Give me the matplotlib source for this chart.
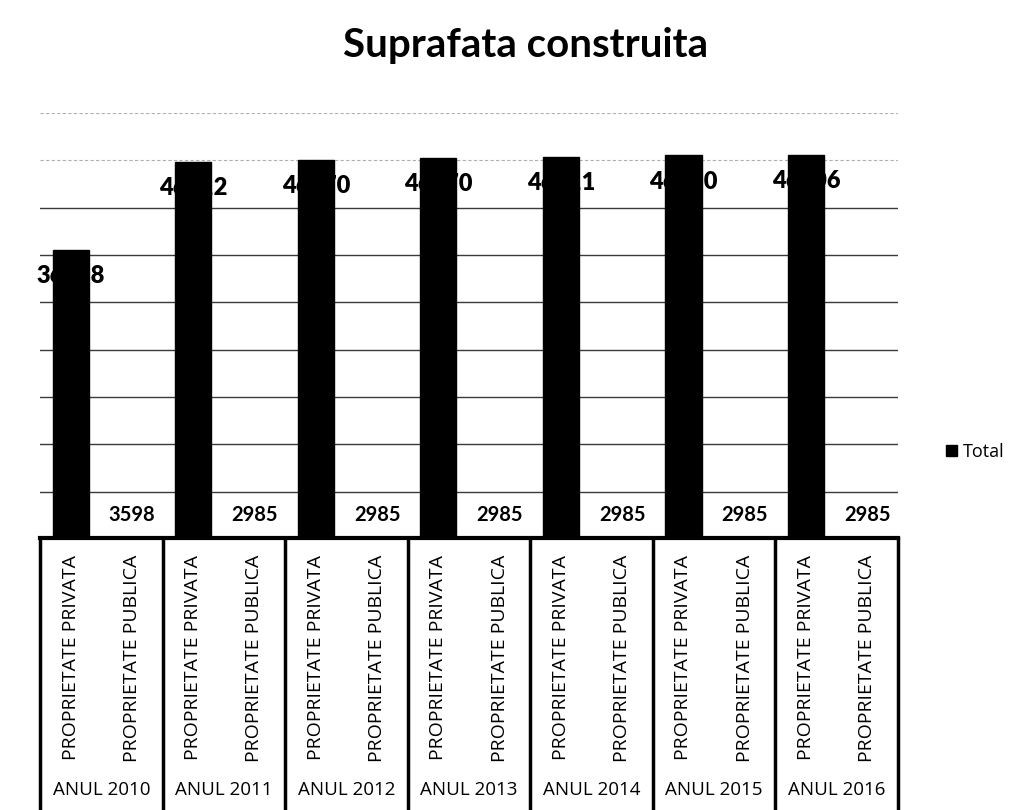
import matplotlib
matplotlib.use("Agg")
import matplotlib.pyplot as plt
import matplotlib.transforms as mtransforms
import numpy as np

# ---- data ----
years = ["ANUL 2010", "ANUL 2011", "ANUL 2012", "ANUL 2013", "ANUL 2014", "ANUL 2015", "ANUL 2016"]
ownership = ["PROPRIETATE PRIVATA", "PROPRIETATE PUBLICA"]
privata = [36538, 46112, 46370, 46570, 46711, 46830, 46906]
publica = [3598, 2985, 2985, 2985, 2985, 2985, 2985]
series_name = "Total"
title = "Suprafata construita"

plt.rcParams['font.family'] = ['Lato', 'DejaVu Sans']

W, H = 1020, 810
fig = plt.figure(figsize=(W / 100, H / 100), dpi=100)
fig.patch.set_facecolor("white")

# axes placement (pixels -> fractions)
left_px, right_px, top_px, base_px = 40, 898, 113, 539
ax = fig.add_axes([left_px / W, (H - base_px) / H, (right_px - left_px) / W, (base_px - top_px) / H])
ax.set_facecolor("white")

n = len(years)
values = []
for p, q in zip(privata, publica):
    values += [p, q]
labels = ownership * n
x = np.arange(len(values))

ymin, ymax = 5100, 51450
ax.set_xlim(-0.5, len(values) - 0.5)
ax.set_ylim(ymin, ymax)

bars = ax.bar(x, values, width=0.59, color="black", edgecolor="black", zorder=3, label=series_name)

# gridlines
grid = np.linspace(ymin, ymax, 10)[1:]
for i, g in enumerate(grid):
    if i >= len(grid) - 2:
        ax.axhline(g, color="#b0b0b0", lw=0.8, ls=(0, (3, 2)), zorder=1)
    else:
        ax.axhline(g, color="#3a3a3a", lw=1.0, zorder=1)

for s in ax.spines.values():
    s.set_visible(False)
ax.set_xticks([])
ax.set_yticks([])

# data labels
for xi, v in zip(x, values):
    if v > ymin:
        ax.annotate(f"{v}", (xi, v), xytext=(0, -19), textcoords="offset points",
                    ha="center", va="center", fontsize=17, fontweight="heavy", zorder=2)
    else:
        ax.annotate(f"{v}", (xi, ymin), xytext=(0, 17), textcoords="offset points",
                    ha="center", va="center", fontsize=14.5, fontweight="bold", zorder=2)

# category axis (multi-level)
trans = mtransforms.blended_transform_factory(ax.transData, ax.transAxes)
ah = base_px - top_px
def ay(py):
    return -(py - base_px) / ah

ax.plot([-0.5, len(values) - 0.5], [ay(538), ay(538)], transform=trans, color="black", lw=3, clip_on=False, zorder=4)
for k in range(n + 1):
    xb = -0.5 + 2 * k
    ax.plot([xb, xb], [ay(538), ay(812)], transform=trans, color="black", lw=2.5, clip_on=False, zorder=4)

for xi, lab in zip(x, labels):
    ax.text(xi, ay(555), lab, transform=trans, rotation=90, ha="center", va="top",
            fontsize=14, family=["Open Sans", "DejaVu Sans"])

for k, yl in enumerate(years):
    ax.text(2 * k + 0.5, ay(790), yl, transform=trans, ha="center", va="center",
            fontsize=13.5, family=["Open Sans", "DejaVu Sans"])

fig.text(526 / W, 1 - 46 / H, title, ha="center", va="center", fontsize=29, fontweight="bold")

fig.legend(handles=[bars], labels=[series_name], loc="center left",
           bbox_to_anchor=(930 / W, 1 - 452 / H), frameon=False,
           handlelength=0.6, handleheight=0.6, handletextpad=0.3,
           prop={"family": ["Open Sans", "DejaVu Sans"], "size": 13})

fig.savefig("out.png", dpi=100, facecolor="white")
